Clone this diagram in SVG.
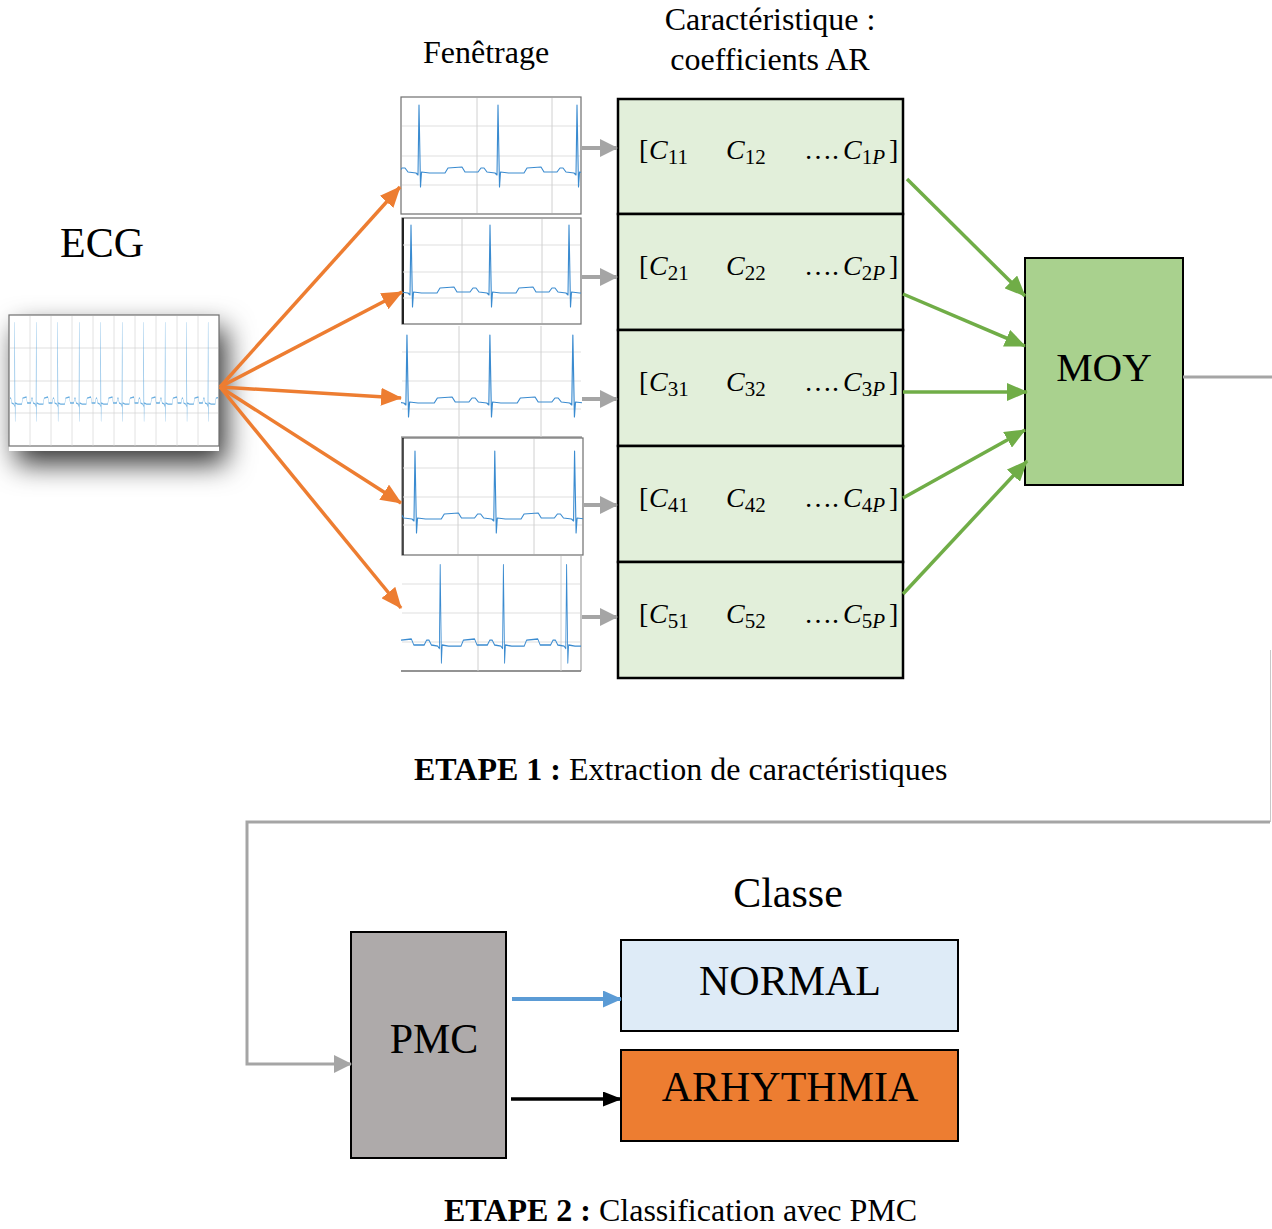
<svg xmlns="http://www.w3.org/2000/svg" xmlns:xlink="http://www.w3.org/1999/xlink" width="1272" height="1229" viewBox="0 0 1272 1229">
<style>
.t{font-family:"Liberation Serif","Times New Roman",serif;fill:#000}
.m{font-family:"Liberation Serif","Times New Roman",serif;font-size:28px;fill:#000}
.mi{font-style:italic}
.sub{font-size:21px}
.wave{fill:none;stroke:#3a8bd0;stroke-width:1.1;vector-effect:non-scaling-stroke;stroke-linejoin:round}
.grid{stroke:#e0e0e0;stroke-width:1.2}
.vgrid{stroke:#d0d0d0;stroke-width:1}
.frame{fill:#fff;stroke:#6f6f6f;stroke-width:1.2}
.feat{fill:#e2efda;stroke:#000;stroke-width:2.5}
.or{stroke:#ed7d31;stroke-width:3.5;fill:none}
.gr{stroke:#a5a5a5;stroke-width:4;fill:none}
.gn{stroke:#70ad47;stroke-width:3.5;fill:none}
</style>
<defs>
<filter id="sh" x="-40%" y="-40%" width="180%" height="190%">
<feGaussianBlur in="SourceAlpha" stdDeviation="14"/>
<feOffset dx="7" dy="13" result="b"/>
<feFlood flood-color="#000" flood-opacity="0.8"/>
<feComposite in2="b" operator="in"/>
<feMerge><feMergeNode/><feMergeNode in="SourceGraphic"/></feMerge>
</filter>
<path id="ecg" d="M-156.5,0 l8,1 l5.5,0 l10,0 l3,-5 l14,-1 l3,5 l5,0 l8,0 l3,-4 l3,0 l3,4 l8,1 l2,2 l1,-70 l1.5,82 l1,-15 l8,1 l5.5,0 l10,0 l3,-5 l14,-1 l3,5 l5,0 l8,0 l3,-4 l3,0 l3,4 l8,1 l2,2 l1,-70 l1.5,82 l1,-15 l8,1 l5.5,0 l10,0 l3,-5 l14,-1 l3,5 l5,0 l8,0 l3,-4 l3,0 l3,4 l8,1 l2,2 l1,-70 l1.5,82 l1,-15 l8,1 l5.5,0 l10,0 l3,-5 l14,-1 l3,5 l5,0 l8,0 l3,-4 l3,0 l3,4 l8,1 l2,2 l1,-70 l1.5,82 l1,-15 l8,1 l5.5,0 l10,0 l3,-5 l14,-1 l3,5 l5,0 l8,0 l3,-4 l3,0 l3,4 l8,1 l2,2 l1,-70 l1.5,82 l1,-15 l8,1 l5.5,0 l10,0 l3,-5 l14,-1 l3,5 l5,0 l8,0 l3,-4 l3,0 l3,4 l8,1 l2,2 l1,-70 l1.5,82 l1,-15 l8,1 l5.5,0 l10,0 l3,-5 l14,-1 l3,5 l5,0 l8,0 l3,-4 l3,0 l3,4 l8,1 l2,2 l1,-70 l1.5,82 l1,-15 l8,1 l5.5,0 l10,0 l3,-5 l14,-1 l3,5 l5,0 l8,0 l3,-4 l3,0 l3,4 l8,1 l2,2 l1,-70 l1.5,82 l1,-15 l8,1 l5.5,0 l10,0 l3,-5 l14,-1 l3,5 l5,0 l8,0 l3,-4 l3,0 l3,4 l8,1 l2,2 l1,-70 l1.5,82 l1,-15 l8,1 l5.5,0 l10,0 l3,-5 l14,-1 l3,5 l5,0 l8,0 l3,-4 l3,0 l3,4 l8,1 l2,2 l1,-70 l1.5,82 l1,-15 l8,1 l5.5,0 l10,0 l3,-5 l14,-1 l3,5 l5,0 l8,0 l3,-4 l3,0 l3,4 l8,1 l2,2 l1,-70 l1.5,82 l1,-15 l8,1 l5.5,0 l10,0 l3,-5 l14,-1 l3,5 l5,0 l8,0 l3,-4 l3,0 l3,4 l8,1 l2,2 l1,-70 l1.5,82 l1,-15"/>
<clipPath id="c0"><rect x="10" y="316" width="208" height="130"/></clipPath>
<clipPath id="c1"><rect x="401" y="97" width="180" height="117"/></clipPath>
<clipPath id="c2"><rect x="402" y="218" width="179" height="106"/></clipPath>
<clipPath id="c3"><rect x="401" y="326" width="181" height="111"/></clipPath>
<clipPath id="c4"><rect x="402" y="438" width="181" height="117"/></clipPath>
<clipPath id="c5"><rect x="401" y="556" width="180" height="116"/></clipPath>
<marker id="mo" markerUnits="userSpaceOnUse" viewBox="0 0 21 18" markerWidth="21" markerHeight="18" refX="20" refY="9" orient="auto"><path d="M0,0 L21,9 L0,18 z" fill="#ed7d31"/></marker>
<marker id="mg" markerUnits="userSpaceOnUse" viewBox="0 0 18 18" markerWidth="18" markerHeight="18" refX="17" refY="9" orient="auto"><path d="M0,0 L18,9 L0,18 z" fill="#a5a5a5"/></marker>
<marker id="mn" markerUnits="userSpaceOnUse" viewBox="0 0 21 18" markerWidth="21" markerHeight="18" refX="20" refY="9" orient="auto"><path d="M0,0 L21,9 L0,18 z" fill="#70ad47"/></marker>
<marker id="mb" markerUnits="userSpaceOnUse" viewBox="0 0 19 17" markerWidth="19" markerHeight="17" refX="18" refY="8.5" orient="auto"><path d="M0,0 L19,8.5 L0,17 z" fill="#5b9bd5"/></marker>
<marker id="mk" markerUnits="userSpaceOnUse" viewBox="0 0 19 15" markerWidth="19" markerHeight="15" refX="18" refY="7.5" orient="auto"><path d="M0,0 L19,7.5 L0,15 z" fill="#000"/></marker>
</defs>
<rect width="1272" height="1229" fill="#fff"/>

<!-- labels -->
<text class="t" x="60" y="257" font-size="42">ECG</text>
<text class="t" x="486" y="63" font-size="32" text-anchor="middle">Fenêtrage</text>
<text class="t" x="770" y="30" font-size="32" text-anchor="middle">Caractéristique :</text>
<text class="t" x="770" y="70" font-size="32" text-anchor="middle">coefficients AR</text>
<text class="t" x="414" y="780" font-size="32"><tspan font-weight="bold">ETAPE 1 :</tspan> Extraction de caractéristiques</text>
<text class="t" x="788" y="907" font-size="42" text-anchor="middle">Classe</text>
<text class="t" x="444" y="1221" font-size="32"><tspan font-weight="bold">ETAPE 2 :</tspan> Classification avec PMC</text>

<!-- ECG input -->
<g id="ecg-input">
<rect x="9" y="315" width="210" height="136" fill="#fff" filter="url(#sh)"/>
<rect x="9" y="315" width="210" height="131" class="frame"/>
<g class="grid"><line x1="10" y1="348" x2="218" y2="348"/><line x1="10" y1="381" x2="218" y2="381"/><line x1="10" y1="413" x2="218" y2="413"/></g>
<g class="vgrid" opacity="0.6"><line x1="30" y1="316" x2="30" y2="446"/><line x1="51" y1="316" x2="51" y2="446"/><line x1="72" y1="316" x2="72" y2="446"/><line x1="93" y1="316" x2="93" y2="446"/><line x1="114" y1="316" x2="114" y2="446"/><line x1="135" y1="316" x2="135" y2="446"/><line x1="156" y1="316" x2="156" y2="446"/><line x1="177" y1="316" x2="177" y2="446"/><line x1="198" y1="316" x2="198" y2="446"/></g>
<g clip-path="url(#c0)"><use xlink:href="#ecg" class="wave" transform="translate(15,403) scale(0.272,1.2)" style="stroke:#6aaee0"/></g>
</g>

<!-- windows -->
<g id="win1">
<rect x="401" y="97" width="180" height="117" class="frame"/>
<g class="grid"><line x1="402" y1="126" x2="580" y2="126"/><line x1="402" y1="156" x2="580" y2="156"/><line x1="402" y1="185" x2="580" y2="185"/></g>
<g class="vgrid"><line x1="477" y1="98" x2="477" y2="213"/><line x1="552" y1="98" x2="552" y2="213"/></g>
<g clip-path="url(#c1)"><use xlink:href="#ecg" class="wave" transform="translate(420,172)"/></g>
</g>
<g id="win2">
<rect x="402" y="218" width="179" height="106" class="frame"/>
<line x1="403" y1="218" x2="403" y2="324" stroke="#222" stroke-width="2"/>
<g class="grid"><line x1="403" y1="245" x2="580" y2="245"/><line x1="403" y1="272" x2="580" y2="272"/><line x1="403" y1="298" x2="580" y2="298"/></g>
<g class="vgrid"><line x1="462" y1="219" x2="462" y2="323"/><line x1="542" y1="219" x2="542" y2="323"/></g>
<g clip-path="url(#c2)"><use xlink:href="#ecg" class="wave" transform="translate(412,292)"/></g>
</g>
<g id="win3">
<line x1="401" y1="437" x2="582" y2="437" stroke="#6f6f6f" stroke-width="1.2"/>
<g class="grid"><line x1="402" y1="352" x2="581" y2="352"/><line x1="402" y1="381" x2="581" y2="381"/><line x1="402" y1="409" x2="581" y2="409"/></g>
<g class="vgrid"><line x1="459" y1="326" x2="459" y2="437"/><line x1="541" y1="326" x2="541" y2="437"/></g>
<g clip-path="url(#c3)"><use xlink:href="#ecg" class="wave" transform="translate(408,402) scale(1.05,1)"/></g>
</g>
<g id="win4">
<rect x="402" y="438" width="181" height="117" class="frame"/>
<line x1="403" y1="438" x2="403" y2="555" stroke="#222" stroke-width="1.5"/>
<g class="grid"><line x1="403" y1="468" x2="582" y2="468"/><line x1="403" y1="497" x2="582" y2="497"/><line x1="403" y1="525" x2="582" y2="525"/></g>
<g class="vgrid"><line x1="458" y1="439" x2="458" y2="554"/><line x1="534" y1="439" x2="534" y2="554"/></g>
<g clip-path="url(#c4)"><use xlink:href="#ecg" class="wave" transform="translate(416,518) scale(1.01,1)"/></g>
</g>
<g id="win5">
<line x1="401" y1="671" x2="581" y2="671" stroke="#6f6f6f" stroke-width="1.5"/>
<line x1="581" y1="556" x2="581" y2="671" stroke="#8f8f8f" stroke-width="1"/>
<g class="grid"><line x1="402" y1="584" x2="580" y2="584"/><line x1="402" y1="613" x2="580" y2="613"/><line x1="402" y1="642" x2="580" y2="642"/></g>
<g class="vgrid"><line x1="478" y1="556" x2="478" y2="671"/><line x1="561" y1="556" x2="561" y2="671"/></g>
<g clip-path="url(#c5)"><use xlink:href="#ecg" class="wave" transform="translate(441,645) scale(0.8,1.2)"/></g>
</g>

<!-- feature rows -->
<g id="feat1"><rect x="618" y="99" width="285" height="115" class="feat"/>
<text class="m" y="159"><tspan x="639">[</tspan><tspan x="649" class="mi">C</tspan><tspan class="sub" dy="5">11</tspan><tspan x="726" dy="-5" class="mi">C</tspan><tspan class="sub" dy="5">12</tspan><tspan x="804" dy="-5">….</tspan><tspan x="843" class="mi">C</tspan><tspan class="sub" dy="5">1<tspan class="mi">P</tspan></tspan><tspan x="889" dy="-5">]</tspan></text></g>
<g id="feat2"><rect x="618" y="214" width="285" height="116" class="feat"/>
<text class="m" y="275"><tspan x="639">[</tspan><tspan x="649" class="mi">C</tspan><tspan class="sub" dy="5">21</tspan><tspan x="726" dy="-5" class="mi">C</tspan><tspan class="sub" dy="5">22</tspan><tspan x="804" dy="-5">….</tspan><tspan x="843" class="mi">C</tspan><tspan class="sub" dy="5">2<tspan class="mi">P</tspan></tspan><tspan x="889" dy="-5">]</tspan></text></g>
<g id="feat3"><rect x="618" y="330" width="285" height="116" class="feat"/>
<text class="m" y="391"><tspan x="639">[</tspan><tspan x="649" class="mi">C</tspan><tspan class="sub" dy="5">31</tspan><tspan x="726" dy="-5" class="mi">C</tspan><tspan class="sub" dy="5">32</tspan><tspan x="804" dy="-5">….</tspan><tspan x="843" class="mi">C</tspan><tspan class="sub" dy="5">3<tspan class="mi">P</tspan></tspan><tspan x="889" dy="-5">]</tspan></text></g>
<g id="feat4"><rect x="618" y="446" width="285" height="116" class="feat"/>
<text class="m" y="507"><tspan x="639">[</tspan><tspan x="649" class="mi">C</tspan><tspan class="sub" dy="5">41</tspan><tspan x="726" dy="-5" class="mi">C</tspan><tspan class="sub" dy="5">42</tspan><tspan x="804" dy="-5">….</tspan><tspan x="843" class="mi">C</tspan><tspan class="sub" dy="5">4<tspan class="mi">P</tspan></tspan><tspan x="889" dy="-5">]</tspan></text></g>
<g id="feat5"><rect x="618" y="562" width="285" height="116" class="feat"/>
<text class="m" y="623"><tspan x="639">[</tspan><tspan x="649" class="mi">C</tspan><tspan class="sub" dy="5">51</tspan><tspan x="726" dy="-5" class="mi">C</tspan><tspan class="sub" dy="5">52</tspan><tspan x="804" dy="-5">….</tspan><tspan x="843" class="mi">C</tspan><tspan class="sub" dy="5">5<tspan class="mi">P</tspan></tspan><tspan x="889" dy="-5">]</tspan></text></g>

<!-- MOY -->
<g id="moy"><rect x="1025" y="258" width="158" height="227" fill="#a9d18e" stroke="#000" stroke-width="2"/>
<text class="t" x="1104" y="381" font-size="41" text-anchor="middle">MOY</text></g>

<!-- PMC -->
<g id="pmc"><rect x="351" y="932" width="155" height="226" fill="#aeaaaa" stroke="#000" stroke-width="2"/>
<text class="t" x="434" y="1053" font-size="42" text-anchor="middle">PMC</text></g>

<!-- classes -->
<g id="normal"><rect x="621" y="940" width="337" height="91" fill="#deebf7" stroke="#000" stroke-width="2"/>
<text class="t" x="790" y="995" font-size="42" text-anchor="middle">NORMAL</text></g>
<g id="arrhythmia"><rect x="621" y="1050" width="337" height="91" fill="#ed7d31" stroke="#000" stroke-width="2"/>
<text class="t" x="790" y="1101" font-size="42" text-anchor="middle">ARHYTHMIA</text></g>

<!-- connectors -->
<g id="connectors">
<line x1="220" y1="387" x2="400" y2="187" class="or" marker-end="url(#mo)"/>
<line x1="220" y1="387" x2="402" y2="292" class="or" marker-end="url(#mo)"/>
<line x1="220" y1="387" x2="401" y2="398" class="or" marker-end="url(#mo)"/>
<line x1="220" y1="387" x2="401" y2="503" class="or" marker-end="url(#mo)"/>
<line x1="220" y1="387" x2="401" y2="608" class="or" marker-end="url(#mo)"/>
<line x1="582" y1="148" x2="617" y2="148" class="gr" marker-end="url(#mg)"/>
<line x1="582" y1="277" x2="617" y2="277" class="gr" marker-end="url(#mg)"/>
<line x1="582" y1="399" x2="617" y2="399" class="gr" marker-end="url(#mg)"/>
<line x1="584" y1="505" x2="617" y2="505" class="gr" marker-end="url(#mg)"/>
<line x1="582" y1="617" x2="617" y2="617" class="gr" marker-end="url(#mg)"/>
<line x1="907" y1="179" x2="1025" y2="296" class="gn" marker-end="url(#mn)"/>
<line x1="903" y1="294" x2="1025" y2="346" class="gn" marker-end="url(#mn)"/>
<line x1="903" y1="392" x2="1027" y2="392" class="gn" marker-end="url(#mn)"/>
<line x1="903" y1="498" x2="1025" y2="430" class="gn" marker-end="url(#mn)"/>
<line x1="903" y1="594" x2="1027" y2="461" class="gn" marker-end="url(#mn)"/>
<line x1="1183" y1="377" x2="1272" y2="377" stroke="#a5a5a5" stroke-width="3"/>
<line x1="1270.5" y1="650" x2="1270.5" y2="822" stroke="#c8c8c8" stroke-width="1"/>
<path d="M1270,822 H247 V1064 H351" stroke="#a5a5a5" stroke-width="3" fill="none" marker-end="url(#mg)"/>
<line x1="512" y1="999" x2="621" y2="999" stroke="#5b9bd5" stroke-width="4" marker-end="url(#mb)"/>
<line x1="511" y1="1099" x2="621" y2="1099" stroke="#000" stroke-width="3.5" marker-end="url(#mk)"/>
</g>
</svg>
